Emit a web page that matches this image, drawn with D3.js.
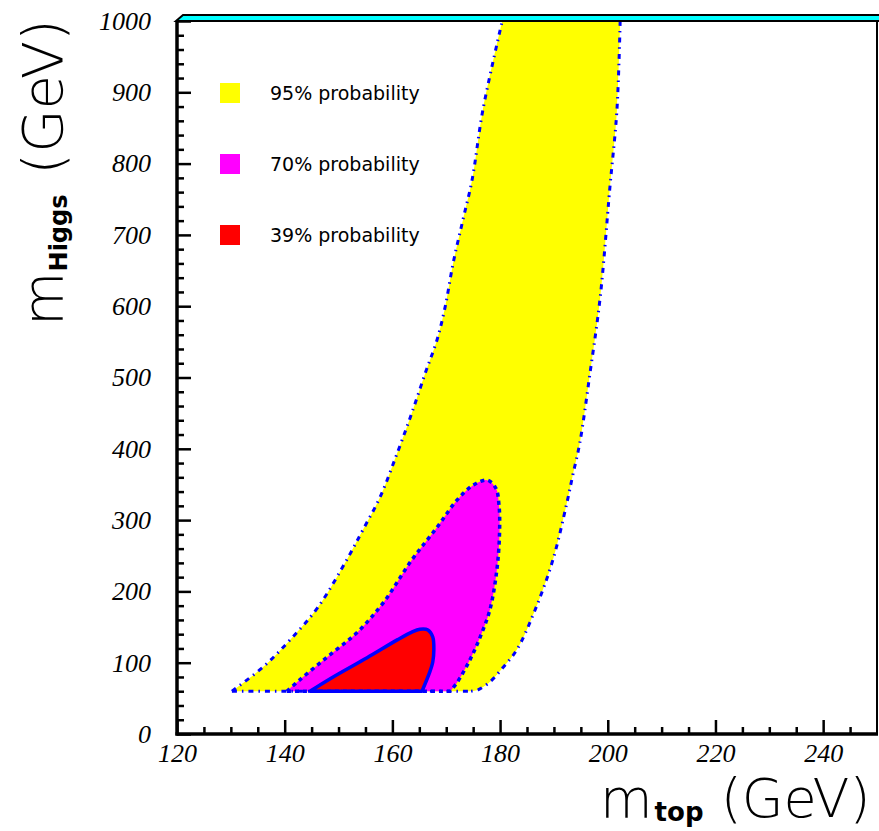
<!DOCTYPE html>
<html>
<head>
<meta charset="utf-8">
<script src="https://cdn.jsdelivr.net/npm/d3@7"></script>
<style>
  body { margin: 0; background: #fff; }
  svg { display: block; }
  .tick text { font-family: "Liberation Serif", serif; font-style: italic; font-size: 26px; fill: #000; }
  .title { font-family: "DejaVu Sans", sans-serif; font-weight: 300; fill: #000; }
  .sub { font-family: "DejaVu Sans", sans-serif; font-weight: bold; }
  .legend-text { font-family: "DejaVu Sans", sans-serif; font-size: 19px; fill: #000; }
</style>
</head>
<body>
<div id="chart"></div>
<script>
// axis ticks
const mtopTicks = [120, 140, 160, 180, 200, 220, 240];
const mhiggsTicks = [0, 100, 200, 300, 400, 500, 600, 700, 800, 900, 1000];
const mtopDomain = [120, 250];
const mhiggsDomain = [0, 1000];

// legend
const legendLabels = ["95% probability", "70% probability", "39% probability"];

// lower cut of the scan (GeV)
const floorMH = 60;

// 95% region, left edge bottom -> top, right edge top -> bottom  [m_top, m_H]
const band95Left = [
  [130.2, 60], [136.0, 94], [141.0, 132], [146.2, 178], [151.8, 248], [154.5, 286],
  [157.7, 332], [160.9, 394], [163.6, 450], [166.1, 506], [168.3, 553], [169.8, 599],
  [171.3, 661], [173.1, 721], [174.8, 777], [176.8, 875], [180.4, 1000]
];
const band95Right = [
  [202.3, 1000], [201.7, 875], [200.4, 767], [198.6, 613], [196.7, 506], [194.8, 408],
  [193.5, 363], [192.4, 324], [189.8, 244], [186.5, 174], [183.1, 118], [180.5, 93],
  [178.1, 73], [175.9, 62], [174.4, 60]
];

// 70% region, closed along the floor
const band70 = [
  [140.4, 60], [142.8, 76], [147.9, 108], [153.4, 142], [158.3, 184], [163.6, 244],
  [168.3, 290], [172.0, 328], [175.0, 349], [177.6, 356], [179.2, 345], [179.8, 321],
  [179.9, 282], [179.4, 230], [178.1, 174], [176.3, 136], [174.4, 104], [172.0, 72],
  [170.7, 60]
];

// 39% region, closed along the floor
const band39 = [
  [144.7, 60], [149.0, 80], [155.3, 107], [160.9, 132], [163.6, 143], [165.1, 147],
  [166.6, 146], [167.5, 136], [167.7, 118], [167.5, 101], [166.9, 86], [165.5, 60]
];

const fills = ["#ffff00", "#ff00ff", "#ff0000"];

let svg, x, y, line;
const width = 879, height = 831;

const createChart = () => {
  svg = d3.select("#chart")
    .append("svg")
    .attr("width", width)
    .attr("height", height);
};

const createScales = () => {
  x = d3.scaleLinear().domain(mtopDomain).range([177, 877]);
  y = d3.scaleLinear().domain(mhiggsDomain).range([734, 21]);
  line = d3.line()
    .x(d => x(d[0]))
    .y(d => y(d[1]))
    .curve(d3.curveCatmullRom.alpha(0.5));
};

const createContours = () => {
  const join = (a, b) => a + b.replace(/^M/, "L");
  const floorLine = (x0, x1) => `M${x(x0)},${y(floorMH)}L${x(x1)},${y(floorMH)}`;

  const g = svg.append("g");

  // fills
  g.append("path")
    .attr("d", join(line(band95Left), line(band95Right)) + "Z")
    .attr("fill", fills[0]);
  g.append("path")
    .attr("d", line(band70) + "Z")
    .attr("fill", fills[1]);
  g.append("path")
    .attr("d", line(band39) + "Z")
    .attr("fill", fills[2]);

  // outlines
  const dash95 = [line(band95Left), line(band95Right),
    floorLine(band95Left[0][0], band95Right[band95Right.length - 1][0])];
  dash95.forEach(d => {
    g.append("path")
      .attr("d", d)
      .attr("fill", "none")
      .attr("stroke", "#0000ff")
      .attr("stroke-width", 3)
      .attr("stroke-dasharray", "5,5,1.5,5");
  });

  g.append("path")
    .attr("d", line(band70) + "Z")
    .attr("fill", "none")
    .attr("stroke", "#0000ff")
    .attr("stroke-width", 3.5)
    .attr("stroke-dasharray", "4,4");

  g.append("path")
    .attr("d", line(band39) + "Z")
    .attr("fill", "none")
    .attr("stroke", "#0000ff")
    .attr("stroke-width", 3.5)
    .attr("stroke-linejoin", "round");
};

const createAxes = () => {
  const minorX = d3.range(125, 250, 5).filter(d => d % 20 !== 0);
  const minorY = d3.range(20, 1000, 20).filter(d => d % 100 !== 0);
  const fmt = d3.format("d");

  const xMajor = d3.axisBottom(x).tickValues(mtopTicks).tickFormat(fmt).tickSizeInner(-14).tickSizeOuter(0).tickPadding(10);
  const xMinor = d3.axisBottom(x).tickValues(minorX).tickSizeInner(-7).tickSizeOuter(0).tickFormat("");
  const yMajor = d3.axisLeft(y).tickValues(mhiggsTicks).tickFormat(fmt).tickSizeInner(-14).tickSizeOuter(0).tickPadding(26);
  const yMinor = d3.axisLeft(y).tickValues(minorY).tickSizeInner(-7).tickSizeOuter(0).tickFormat("");

  [[xMajor, `translate(0,${y(0)})`], [xMinor, `translate(0,${y(0)})`],
   [yMajor, `translate(${x(120)},0)`], [yMinor, `translate(${x(120)},0)`]].forEach(([ax, tr]) => {
    const a = svg.append("g").attr("transform", tr).call(ax);
    a.select(".domain").remove();
    a.selectAll(".tick line").attr("stroke", "#000").attr("stroke-width", 2.5);
  });

  // frame
  const x0 = x(mtopDomain[0]), x1 = x(mtopDomain[1]);
  const y0 = y(mhiggsDomain[0]), y1 = y(mhiggsDomain[1]);
  svg.append("line").attr("x1", x1).attr("x2", x1).attr("y1", y1).attr("y2", y0)
    .attr("stroke", "#000").attr("stroke-width", 2);
  svg.append("line").attr("x1", x0).attr("x2", x0).attr("y1", y1).attr("y2", y0 + 1.5)
    .attr("stroke", "#000").attr("stroke-width", 3.5);
  svg.append("line").attr("x1", x0 - 1.5).attr("x2", x1 + 1).attr("y1", y0).attr("y2", y0)
    .attr("stroke", "#000").attr("stroke-width", 3.5);

  // band above the top edge
  svg.append("path")
    .attr("d", `M${x0 - 1},${y1} L${x0 + 6},${y1 - 6} L${width + 2},${y1 - 6} L${width + 2},${y1} Z`)
    .attr("fill", "#00ffff")
    .attr("stroke", "#000")
    .attr("stroke-width", 2);
};

const createTitles = () => {
  const xt = svg.append("text")
    .attr("class", "title")
    .style("font-size", "54px")
    .attr("x", 600)
    .attr("y", 817);
  xt.append("tspan").text("m");
  xt.append("tspan").attr("class", "sub").attr("dy", 4).attr("dx", 2).style("font-size", "26px").text("top");
  xt.append("tspan").attr("dy", -4).text(" (GeV)");

  const yt = svg.append("text")
    .attr("class", "title")
    .style("font-size", "56px")
    .attr("transform", "translate(62,326) rotate(-90)");
  yt.append("tspan").text("m");
  yt.append("tspan").attr("class", "sub").attr("dy", 5).style("font-size", "24px").text("Higgs");
  yt.append("tspan").attr("dy", -5).attr("dx", 2).text(" (GeV)");
};

const createLegend = () => {
  const legend = svg.append("g").attr("transform", "translate(220,83)");
  const item = legend.selectAll("g")
    .data(legendLabels)
    .enter()
    .append("g")
    .attr("transform", (d, i) => `translate(0,${i * 71})`);
  item.append("rect")
    .attr("width", 20)
    .attr("height", 20)
    .attr("fill", (d, i) => fills[i]);
  item.append("text")
    .attr("class", "legend-text")
    .attr("x", 50)
    .attr("y", 17)
    .text(d => d);
};

createChart();
createScales();
createContours();
createAxes();
createTitles();
createLegend();
</script>
</body>
</html>
